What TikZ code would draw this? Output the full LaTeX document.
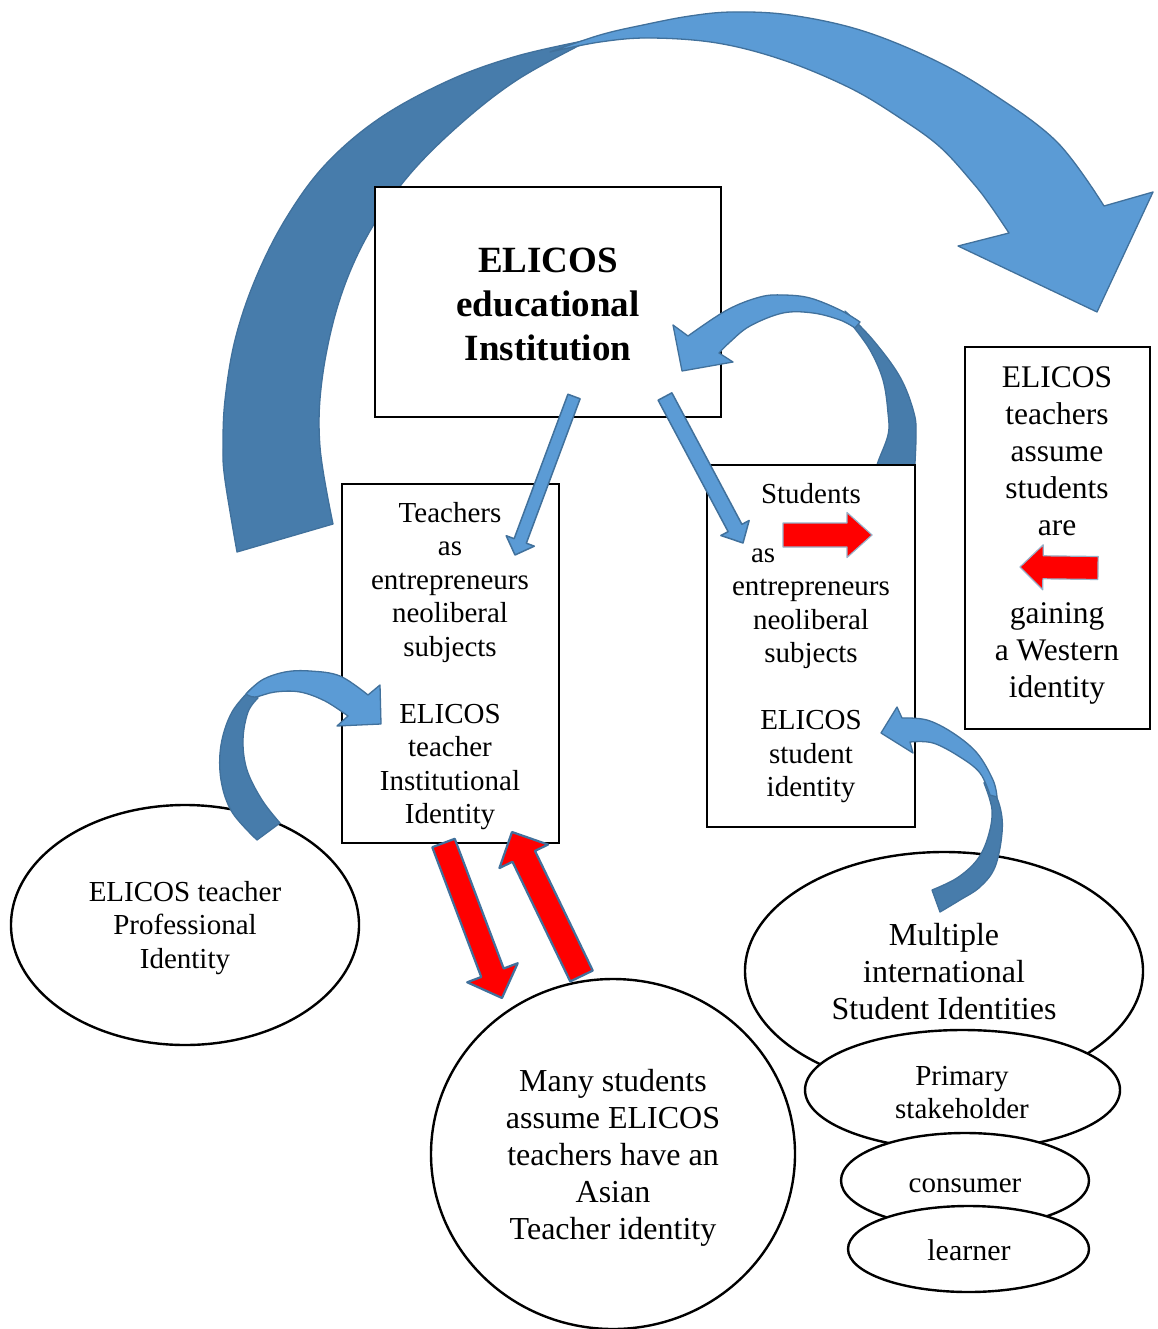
\documentclass[tikz,border=0pt]{standalone}
\usepackage{fontspec}
\setmainfont{Liberation Serif}
\usetikzlibrary{calc,shapes.geometric}
\definecolor{bandlight}{HTML}{5B9BD5}
\definecolor{banddark}{HTML}{477CAB}
\definecolor{bandline}{HTML}{41719C}
\definecolor{arrowred}{HTML}{FF0000}

% straight block arrow: #1 style, #2 tail, #3 tip, #4 shaft half-width,
% #5 head half-width, #6 head length
\newcommand\blockarrow[6]{%
  \path ($(#3)!#6!(#2)$) coordinate (ba-base);
  \filldraw[#1] ($(#2)!#4!90:(#3)$) -- ($(ba-base)!#4!-90:(#2)$)
    -- ($(ba-base)!#5!-90:(#2)$) -- (#3) -- ($(ba-base)!#5!90:(#2)$)
    -- ($(ba-base)!#4!90:(#2)$) -- ($(#2)!#4!-90:(#3)$) -- cycle;
}

\tikzset{
  box/.style={draw=black, line width=1.2pt, fill=white, inner sep=0pt},
  oval/.style={ellipse, draw=black, line width=2.4pt, fill=white, inner sep=0pt},
  txt/.style={align=center, inner sep=0pt, font=\fontsize{29}{33.5}\selectfont},
  bigtxt/.style={align=center, inner sep=0pt, font=\fontsize{31.5}{37}\selectfont},
  titletxt/.style={align=center, inner sep=0pt, font=\fontsize{37}{44}\selectfont\bfseries},
  backband/.style={fill=banddark, draw=bandline, line width=1.3pt, line join=round},
  frontband/.style={fill=bandlight, draw=bandline, line width=1.3pt, line join=round},
  bluearrow/.style={fill=bandlight, draw=bandline, line width=1.5pt, line join=round},
  redarrow/.style={fill=arrowred, draw=bandline, line width=2.2pt, line join=round},
  softred/.style={fill=arrowred, draw=bandline!55, line width=1.2pt, line join=round},
}

\begin{document}
\begin{tikzpicture}[x=1pt, y=-1pt]
\useasboundingbox (0,0) rectangle (1157,1329);

% large arch from the teacher side over to the right-hand box
\filldraw[backband] plot[smooth, tension=0.6] coordinates {(237,552) (225,480) (223,447) (225,400) (235,340) (255,280) (285,220) (325,165) (380,118) (450,80) (517,56) (588,40)}
  -- plot[smooth, tension=0.6] coordinates {(588,41) (517,80) (457,127) (405,180) (365,240) (338,305) (322,380) (320,447) (333,524)} -- cycle;
\filldraw[frontband] plot[smooth, tension=0.6] coordinates {(550,52) (600,35) (643,25) (690,16) (733,12) (790,15) (860,30) (930,58) (990,92) (1057,142) (1104,206)}
  -- (1153,192) -- (1097,312) -- (958,246) --
  plot[smooth, tension=0.6] coordinates {(1009,233) (990,205) (973,183) (940,147) (900,118) (850,88) (783,60) (717,43) (650,38) (600,42) (550,52)} -- cycle;

% institution box
\node[box, minimum width=346pt, minimum height=230pt] (inst) at (548,302) {};
\node[titletxt] (inst-t) at (548,304.5) {ELICOS\\educational\\Institution};

% arrow from the students box back to the institution
\filldraw[backband] plot[smooth, tension=0.6] coordinates {(845,311) (873,340) (900,377) (914,413) (916,437) (914,480)}
  -- plot[smooth, tension=0.6] coordinates {(876,480) (877,465) (888,435) (888,413) (883,380) (870,350) (852,325)} -- cycle;
\filldraw[frontband] plot[smooth, tension=0.6] coordinates {(688,336) (727,310) (760,297) (783,295) (810,298) (840,310) (860,322)}
  -- plot[smooth, tension=0.6] coordinates {(855,328) (840,320) (813,313) (783,313) (750,326) (730,342) (719,353)}
  -- (733,362) -- (682,371) -- (673,325) -- cycle;

% remaining boxes
\node[box, minimum width=217pt, minimum height=359pt] (teach) at (450.5,663.5) {};
\node[box, minimum width=208pt, minimum height=362pt] (stud) at (811,646) {};
\node[box, minimum width=185pt, minimum height=382pt] (west) at (1057.5,538) {};

\node[txt] (teach-t) at (450,666) {Teachers\\as\\entrepreneurs\\neoliberal\\subjects\\[33.5pt]ELICOS\\teacher\\Institutional\\Identity};
\node[txt] (stud-t) at (811,643) {Students\\[25.5pt]\makebox[120pt][l]{as}\\entrepreneurs\\neoliberal\\subjects\\[33.5pt]ELICOS\\student\\identity};
\node[bigtxt] (west-t) at (1057,535) {ELICOS\\teachers\\assume\\students\\are\\[51pt]gaining\\a Western\\identity};

% ellipses
\node[oval, minimum width=348pt, minimum height=240pt] (prof) at (185,925) {};
\node[oval, minimum width=364pt, minimum height=350pt] (asian) at (613,1154) {};
\node[oval, minimum width=398pt, minimum height=238pt] (multi) at (944,971) {};
\node[oval, minimum width=315pt, minimum height=120pt] (prim) at (962.5,1090) {};
\node[oval, minimum width=248pt, minimum height=95pt] (cons) at (965,1180.5) {};
\node[oval, minimum width=241pt, minimum height=86pt] (learn) at (968.5,1249) {};

\node[txt] (prof-t) at (185,928) {ELICOS teacher\\Professional\\Identity};
\node[txt, font=\fontsize{32}{37}\selectfont] (asian-t) at (613,1157.5) {Many students\\assume ELICOS\\teachers have an\\Asian\\Teacher identity};
\node[txt, font=\fontsize{32}{37}\selectfont] (multi-t) at (944,971.5) {Multiple\\international\\Student Identities};
\node[txt, font=\fontsize{29}{33}\selectfont] (prim-t) at (962,1092.5) {Primary\\stakeholder};
\node[txt] (cons-t) at (965,1185.5) {consumer};
\node[txt, font=\fontsize{30}{34}\selectfont] (learn-t) at (969,1250.5) {learner};

% professional identity feeding the institutional identity
\filldraw[backband] plot[smooth, tension=0.6] coordinates {(252,688) (232,712) (221,745) (221,780) (232,812) (257,840)}
  -- plot[smooth, tension=0.6] coordinates {(280,823) (262,800) (247,770) (243,740) (248,712) (258,698)} -- cycle;
\filldraw[frontband] plot[smooth, tension=0.6] coordinates {(246,694) (262,680) (285,672) (310,671) (340,676) (368,695)}
  -- (380,685) -- (381,724) -- (337,726) --
  plot[smooth, tension=0.6] coordinates {(348,716) (325,701) (300,692) (275,692) (255,697) (246,694)} -- cycle;

% multiple identities feeding the student identity
\filldraw[backband] plot[smooth, tension=0.6] coordinates {(988,776) (1000,807) (1002,833) (995,867) (980,887) (960,900) (940,912)}
  -- plot[smooth, tension=0.6] coordinates {(932,890) (957,878) (977,860) (988,837) (992,810) (984,783)} -- cycle;
\filldraw[frontband] plot[smooth, tension=0.6] coordinates {(902,718) (927,720) (953,733) (977,753) (993,780) (997,797)}
  -- plot[smooth, tension=0.6] coordinates {(990,795) (980,773) (960,757) (933,743) (910,742)}
  -- (913,753) -- (881,733) -- (897,707) -- cycle;

% straight arrows from the institution
\coordinate (ta-s) at (574,396.5);
\coordinate (ta-t) at (515,555);
\blockarrow{bluearrow}{ta-s}{ta-t}{6.5pt}{15pt}{15pt}
\coordinate (sa-s) at (665,396.5);
\coordinate (sa-t) at (743,543);
\blockarrow{bluearrow}{sa-s}{sa-t}{7.8pt}{16pt}{17pt}

% red arrows between teacher identities
\coordinate (rd-s) at (443.5,843);
\coordinate (rd-t) at (502,998);
\blockarrow{redarrow}{rd-s}{rd-t}{12pt}{27pt}{27pt}
\coordinate (ru-s) at (581.5,976);
\coordinate (ru-t) at (512,832);
\blockarrow{redarrow}{ru-s}{ru-t}{12.5pt}{27pt}{27pt}

% red arrows between the student boxes
\coordinate (rs-s) at (783,535);
\coordinate (rs-t) at (872,535);
\blockarrow{softred}{rs-s}{rs-t}{12pt}{22.5pt}{25pt}
\coordinate (rw-s) at (1098,568);
\coordinate (rw-t) at (1020,567);
\blockarrow{softred}{rw-s}{rw-t}{11.5pt}{22.5pt}{23pt}
\end{tikzpicture}
\end{document}
